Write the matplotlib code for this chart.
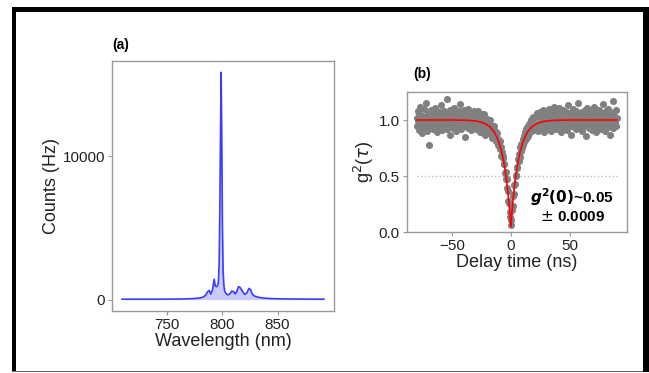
import numpy as np
import matplotlib
matplotlib.use("Agg")
from matplotlib import pyplot as plt
from matplotlib.patches import Rectangle

plt.rcParams['font.family'] = ['Liberation Sans', 'DejaVu Sans']
plt.rcParams['mathtext.fontset'] = 'dejavusans'

# (a) emission spectrum
wavelength = [709, 720, 740, 760, 770, 775, 780, 783, 785, 786.5, 788, 789.5, 791,
              792.5, 793.5, 794.5, 795.5, 796.3, 797, 797.6, 798.3, 798.8, 799.4,
              800, 800.6, 801.3, 802, 803.5, 805, 807, 808.5, 810, 811.5, 813, 814.5,
              816, 818, 820, 822, 824, 825.5, 827, 829, 832, 836, 842, 850, 860, 875,
              892]
counts = [30, 30, 30, 40, 60, 80, 120, 200, 330, 560, 640, 380, 700,
          1420, 950, 900, 980, 1200, 2500, 6000, 12000, 15850, 11000,
          5000, 2000, 1000, 600, 400, 330, 420, 600, 560, 400, 560, 900,
          850, 600, 380, 450, 780, 700, 400, 250, 180, 120, 80, 60, 45, 35,
          30]

# (b) g2 histogram, bins of 0.5 ns from -80 ns to 90 ns
bin_start, bin_width = -80.0, 0.5
g2_counts = [
    1.02, 0.95, 1.08, 0.99, 0.91, 1.05, 1.12, 0.97, 1.01, 0.88,
    1.04, 0.98, 1.10, 0.93, 1.03, 0.96, 1.15, 1.00, 0.90, 1.06,
    0.99, 0.78, 1.03, 0.94, 1.09, 1.01, 0.97, 1.05, 0.92, 1.08,
    1.00, 0.95, 1.11, 0.98, 1.04, 0.89, 1.02, 0.96, 1.07, 0.93,
    1.01, 1.13, 0.97, 1.05, 0.91, 1.03, 0.99, 1.08, 0.94, 1.00,
    1.06, 0.92, 1.19, 0.98, 1.02, 0.95, 1.09, 0.87, 1.04, 1.00,
    0.96, 1.07, 0.93, 1.01, 1.11, 0.97, 1.03, 0.90, 1.06, 0.99,
    1.02, 0.94, 1.08, 0.96, 1.14, 1.00, 0.92, 1.05, 0.98, 1.03,
    0.95, 1.09, 0.85, 1.01, 1.06, 0.97, 1.02, 0.93, 1.10, 0.99,
    1.04, 0.96, 1.07, 0.91, 1.01, 1.05, 0.94, 1.08, 0.98, 1.02,
    # -30 .. -0.5
    1.04, 0.92, 1.01, 0.96, 1.08, 0.98, 1.02, 0.89, 1.04, 0.94,
    0.99, 1.05, 0.92, 1.00, 0.95, 1.05, 0.87, 0.98, 0.92, 1.01,
    0.95, 0.99, 0.88, 0.97, 0.91, 1.00, 0.88, 0.94, 0.84, 0.95,
    0.89, 0.95, 0.85, 0.90, 0.81, 0.89, 0.83, 0.88, 0.78, 0.83,
    0.77, 0.81, 0.74, 0.76, 0.68, 0.71, 0.66, 0.68, 0.61, 0.61,
    0.53, 0.54, 0.47, 0.47, 0.39, 0.37, 0.28, 0.26, 0.18, 0.13,
    # 0
    0.06,
    # 0.5 .. 30
    0.11, 0.20, 0.23, 0.32, 0.34, 0.42, 0.43, 0.50, 0.51, 0.58,
    0.57, 0.65, 0.63, 0.70, 0.67, 0.76, 0.72, 0.79, 0.75, 0.83,
    0.78, 0.86, 0.80, 0.89, 0.83, 0.92, 0.85, 0.94, 0.86, 0.96,
    0.88, 0.97, 0.89, 1.00, 0.90, 1.01, 0.92, 1.03, 0.91, 1.02,
    0.94, 1.04, 0.93, 1.06, 0.96, 0.90, 1.03, 0.95, 1.07, 0.97,
    0.92, 1.04, 0.98, 1.09, 0.94, 1.01, 0.89, 1.05, 0.97, 1.02,
    # 30.5 .. 90
    0.98, 1.06, 0.93, 1.03, 1.10, 0.96, 1.01, 0.90, 1.07, 0.99,
    1.04, 0.95, 1.12, 0.97, 1.02, 0.92, 1.08, 1.00, 0.94, 1.05,
    0.98, 1.11, 0.96, 1.03, 0.89, 1.06, 1.01, 0.95, 1.09, 0.97,
    1.02, 0.93, 1.07, 0.99, 1.04, 0.91, 1.13, 0.98, 1.01, 0.95,
    1.06, 0.87, 1.03, 0.97, 1.10, 1.00, 0.94, 1.05, 0.99, 1.08,
    0.92, 1.02, 0.96, 1.15, 1.01, 0.93, 1.06, 0.98, 1.03, 0.90,
    1.07, 0.97, 1.04, 0.95, 1.09, 1.00, 0.86, 1.02, 0.96, 1.11,
    0.99, 1.05, 0.93, 1.03, 0.98, 1.08, 0.91, 1.01, 1.06, 0.95,
    1.12, 0.97, 1.02, 0.89, 1.07, 1.00, 0.94, 1.04, 0.99, 1.09,
    0.96, 1.03, 0.92, 1.06, 1.01, 0.97, 1.14, 0.95, 1.05, 0.90,
    1.08, 0.98, 1.02, 0.94, 1.10, 0.99, 1.04, 0.87, 1.06, 1.00,
    0.96, 1.03, 1.17, 0.93, 1.07, 0.98, 1.01, 0.95, 1.09, 1.02,
]
delay = bin_start + bin_width * np.arange(len(g2_counts))

# fitted curve
fit_tau = [-80, -50, -40, -35, -30, -26, -23, -20, -18, -16, -14, -12, -10, -8, -7,
           -6, -5, -4, -3, -2, -1.5, -1, -0.5, 0, 0.5, 1, 1.5, 2, 3, 4, 5, 6, 7, 8,
           10, 12, 14, 16, 18, 20, 23, 26, 30, 35, 40, 50, 90]
fit_g2 = [1.0, 1.0, 0.998, 0.996, 0.991, 0.983, 0.972, 0.956, 0.940, 0.919, 0.890,
          0.850, 0.796, 0.723, 0.677, 0.623, 0.560, 0.487, 0.401, 0.302, 0.246,
          0.186, 0.120, 0.050, 0.120, 0.186, 0.246, 0.302, 0.401, 0.487, 0.560,
          0.623, 0.677, 0.723, 0.796, 0.850, 0.890, 0.919, 0.940, 0.956, 0.972,
          0.983, 0.991, 0.996, 0.998, 1.0, 1.0]

W, H = 649, 373
fig = plt.figure(figsize=(W / 100, H / 100), dpi=100)
fig.patch.set_facecolor('white')

spine_col = '#999999'
txt_col = '#222222'


def style(ax):
    for s in ax.spines.values():
        s.set_color(spine_col)
        s.set_linewidth(1.0)
    ax.tick_params(colors=spine_col, labelcolor=txt_col, labelsize=11,
                   length=3, width=0.8, pad=2)


# panel (a)
ax1 = fig.add_axes([112 / W, 1 - 311 / H, 222 / W, 250 / H])
ax1.fill_between(wavelength, counts, color='#cacaff', lw=0)
ax1.plot(wavelength, counts, color='#3b3bff', lw=1.2)
ax1.set_xticks([750, 800, 850])
ax1.set_yticks([0, 10000])
ax1.set_xlabel('Wavelength (nm)', fontsize=13, color=txt_col, labelpad=1)
ax1.set_ylabel('Counts (Hz)', fontsize=13, color=txt_col, labelpad=2)
style(ax1)

# panel (b)
ax2 = fig.add_axes([406.5 / W, 1 - 232 / H, 220.5 / W, 140 / H])
ax2.hlines(0.5, -80, 90, colors='#bbbbbb', linestyles=':', lw=1.0)
ax2.scatter(delay, g2_counts, s=26, color='#808080', lw=0, zorder=2)
ax2.plot(fit_tau, fit_g2, color='red', lw=1.2, zorder=3)
ax2.set_xlim(-88.5, 98.5)
ax2.set_ylim(0, 1.25)
ax2.set_xticks([-50, 0, 50])
ax2.set_yticks([0.0, 0.5, 1.0])
ax2.set_xlabel('Delay time (ns)', fontsize=13, color=txt_col, labelpad=1)
ax2.set_ylabel(r'g$^2$($\tau$)', fontsize=13, color=txt_col, labelpad=2)
style(ax2)
ax2.text(52, 0.31, r'$\mathbfit{g}^\mathbf{2}\mathbf{(0)}$~0.05', fontsize=11,
         fontweight='bold', ha='center', va='center', color='black', zorder=4)
ax2.text(52, 0.13, r'$\pm$ 0.0009', fontsize=11, fontweight='bold',
         ha='center', va='center', color='black', zorder=4)

# panel letters
fig.text(121 / W, 1 - 45 / H, '(a)', fontsize=10, fontweight='bold',
         ha='center', va='center')
fig.text(422 / W, 1 - 74 / H, '(b)', fontsize=10, fontweight='bold',
         ha='center', va='center')

# black frame around the figure
tf = fig.transFigure
fig.add_artist(Rectangle((12 / W, 1 - 12 / H), 1 - 12 / W, 5 / H, transform=tf,
                         color='black', lw=0))
fig.add_artist(Rectangle((12 / W, 1 - 372 / H), 4 / W, 365 / H, transform=tf,
                         color='black', lw=0))
fig.add_artist(Rectangle((643 / W, 1 - 372 / H), 6 / W, 365 / H, transform=tf,
                         color='black', lw=0))
fig.add_artist(Rectangle((12 / W, 1 - 372 / H), 631 / W, 1.2 / H, transform=tf,
                         color='#666666', lw=0))

fig.savefig('out.png', dpi=100)
